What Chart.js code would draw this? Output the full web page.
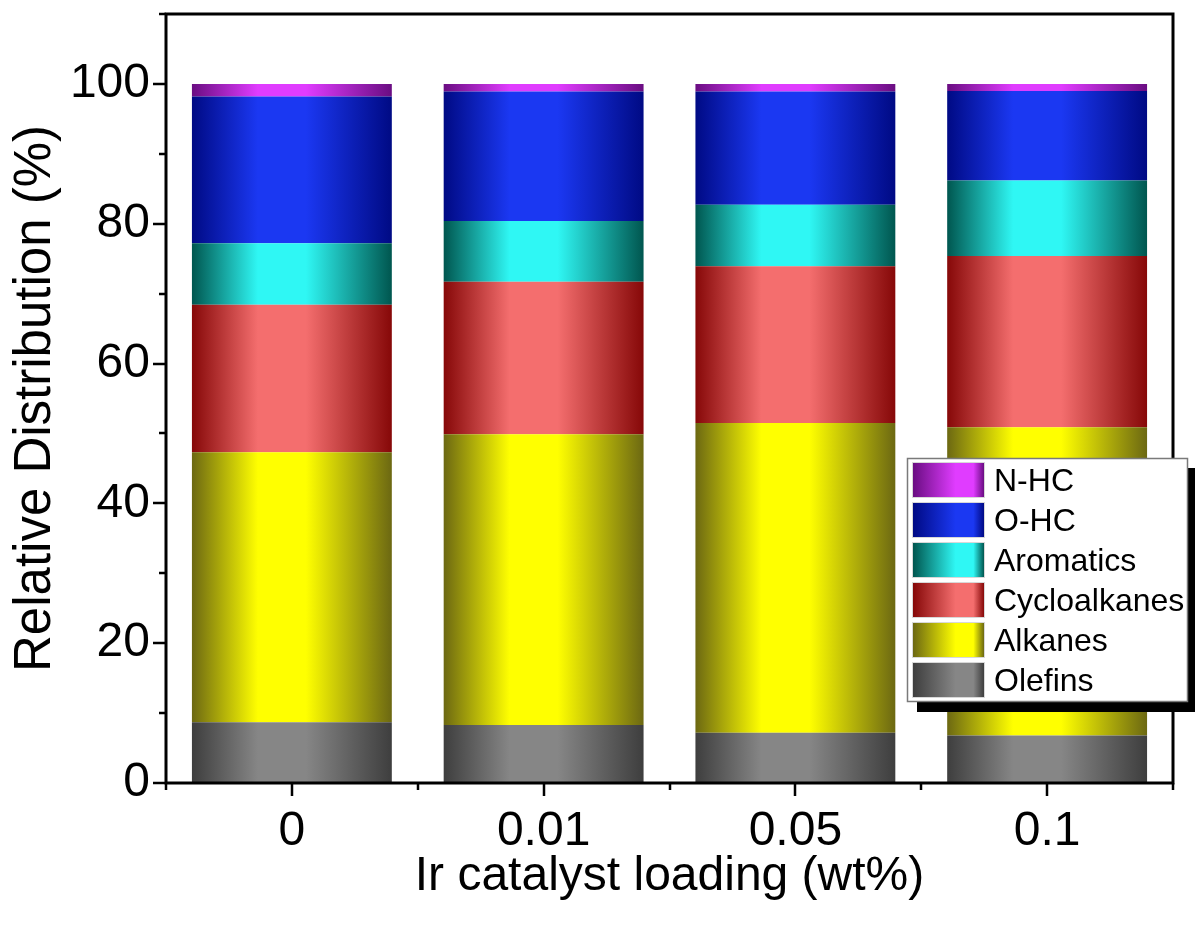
<!DOCTYPE html>
<html>
<head>
<meta charset="utf-8">
<script src="https://cdn.jsdelivr.net/npm/chart.js@4.4.1/dist/chart.umd.min.js"></script>
<style>
  html, body { margin: 0; padding: 0; background: #fff; }
  canvas { display: block; }
</style>
</head>
<body>
<canvas id="chart" width="1195" height="928"></canvas>
<script>
// Ir catalyst loading (wt%) categories
const loadings = ['0', '0.01', '0.05', '0.1'];

// Relative distribution (%) of each product class, bottom of the stack first
const olefins      = [8.7, 8.3, 7.2, 6.8];
const alkanes      = [38.6, 41.6, 44.3, 44.1];
const cycloalkanes = [21.1, 21.8, 22.4, 24.5];
const aromatics    = [8.8, 8.7, 8.8, 10.8];
const oHC          = [21.0, 18.5, 16.2, 12.8];
const nHC          = [1.8, 1.1, 1.1, 1.0];

// Axis ticks
const yTicks      = [0, 20, 40, 60, 80, 100];
const yMinorTicks = [10, 30, 50, 70, 90, 110];

const FONT = '"Liberation Sans", Arial, Helvetica, sans-serif';
const BAR_FRACTION = 0.794;

// Cylinder-style horizontal shading: dark edges, bright band left of centre
function shadeStops(g, dark, light) {
  g.addColorStop(0, dark);
  g.addColorStop(0.33, light);
  g.addColorStop(0.57, light);
  g.addColorStop(1, dark);
  return g;
}

function barShade(dark, light) {
  return function (ctx) {
    const chart = ctx.chart;
    const xs = chart.scales && chart.scales.x;
    if (!xs || ctx.dataIndex === undefined || !chart.chartArea) return light;
    const cx = xs.getPixelForValue(ctx.dataIndex);
    const w = (xs.width / loadings.length) * BAR_FRACTION;
    return shadeStops(chart.ctx.createLinearGradient(cx - w / 2, 0, cx + w / 2, 0), dark, light);
  };
}

const series = [
  { label: 'Olefins',      data: olefins,      dark: '#3e3e3e', light: '#868686' },
  { label: 'Alkanes',      data: alkanes,      dark: '#6c6812', light: '#ffff00' },
  { label: 'Cycloalkanes', data: cycloalkanes, dark: '#860808', light: '#f46e6e' },
  { label: 'Aromatics',    data: aromatics,    dark: '#00564f', light: '#2ff7f4' },
  { label: 'O-HC',         data: oHC,          dark: '#000a84', light: '#1b38f2' },
  { label: 'N-HC',         data: nHC,          dark: '#6a0d82', light: '#e03cff' }
];

const datasets = series.map(s => ({
  label: s.label,
  data: s.data,
  backgroundColor: barShade(s.dark, s.light),
  borderWidth: 0,
  barPercentage: BAR_FRACTION,
  categoryPercentage: 1,
  shadeDark: s.dark,
  shadeLight: s.light
}));

// Frame, inward/outward tick marks
const axisDecor = {
  id: 'axisDecor',
  afterDraw(chart) {
    const { ctx, chartArea: a, scales: { x, y } } = chart;
    ctx.save();
    ctx.strokeStyle = '#000';
    ctx.lineWidth = 3;
    ctx.strokeRect(a.left, a.top, a.right - a.left, a.bottom - a.top);
    ctx.lineWidth = 2.5;
    ctx.beginPath();
    yTicks.forEach(v => {
      const p = Math.round(y.getPixelForValue(v));
      ctx.moveTo(a.left - 13, p); ctx.lineTo(a.left, p);
    });
    yMinorTicks.forEach(v => {
      const p = Math.round(y.getPixelForValue(v));
      ctx.moveTo(a.left - 7, p); ctx.lineTo(a.left, p);
    });
    const step = (x.right - x.left) / loadings.length;
    loadings.forEach((_, i) => {
      const p = Math.round(x.getPixelForValue(i));
      ctx.moveTo(p, a.bottom); ctx.lineTo(p, a.bottom + 13);
    });
    for (let i = 0; i <= loadings.length; i++) {
      const p = Math.round(x.left + i * step);
      ctx.moveTo(p, a.bottom); ctx.lineTo(p, a.bottom + 7);
    }
    ctx.stroke();
    ctx.restore();
  }
};

// Legend box with drop shadow and shaded swatches
const shadedLegend = {
  id: 'shadedLegend',
  afterDraw(chart) {
    const { ctx, chartArea: a } = chart;
    const left = a.right - 266, top = a.top + 444;
    const w = 281, h = 244, rowH = 40;
    ctx.save();
    ctx.fillStyle = '#000';
    ctx.fillRect(left + 10, top + 10, w, h);
    ctx.fillStyle = '#fff';
    ctx.fillRect(left, top, w, h);
    ctx.strokeStyle = '#7a7a7a';
    ctx.lineWidth = 1.5;
    ctx.strokeRect(left + 0.5, top + 0.5, w - 1, h - 1);
    const items = chart.data.datasets.slice().reverse();
    ctx.font = '32px ' + FONT;
    ctx.textBaseline = 'middle';
    ctx.textAlign = 'left';
    items.forEach((ds, i) => {
      const sx = left + 6, sy = top + 5 + i * rowH, sw = 71, sh = 34;
      const g = ctx.createLinearGradient(sx, 0, sx + sw, 0);
      g.addColorStop(0, ds.shadeDark);
      g.addColorStop(0.6, ds.shadeLight);
      g.addColorStop(0.85, ds.shadeLight);
      g.addColorStop(1, ds.shadeDark);
      ctx.fillStyle = g;
      ctx.fillRect(sx, sy, sw, sh);
      ctx.strokeStyle = '#d8d8d8';
      ctx.lineWidth = 1;
      ctx.strokeRect(sx - 0.5, sy - 0.5, sw + 1, sh + 1);
      ctx.fillStyle = '#000';
      ctx.fillText(ds.label, left + 87, sy + sh / 2 + 2);
    });
    ctx.restore();
  }
};

Chart.defaults.font.family = FONT;
Chart.defaults.color = '#000';

new Chart(document.getElementById('chart'), {
  type: 'bar',
  data: { labels: loadings, datasets },
  options: {
    responsive: false,
    animation: false,
    devicePixelRatio: 1,
    layout: { padding: { top: 14, right: 22, left: 0, bottom: 0 } },
    plugins: { legend: { display: false }, tooltip: { enabled: false } },
    scales: {
      x: {
        stacked: true,
        grid: { display: false, drawTicks: false, tickLength: 0 },
        border: { display: false },
        ticks: { font: { size: 48 }, padding: 20, color: '#000', maxRotation: 0 },
        title: {
          display: true,
          text: 'Ir catalyst loading (wt%)',
          font: { size: 48 },
          color: '#000',
          padding: { top: 22, bottom: 22 }
        },
        afterFit(scale) {
          scale.height = 145;
          scale.paddingLeft = 0;
          scale.paddingRight = 0;
        }
      },
      y: {
        stacked: true,
        min: 0,
        max: 110,
        grid: { display: false, drawTicks: false, tickLength: 0 },
        border: { display: false },
        ticks: { font: { size: 48 }, padding: 16, color: '#000' },
        afterBuildTicks(scale) {
          scale.ticks = yTicks.map(v => ({ value: v }));
        },
        title: {
          display: true,
          text: 'Relative Distribution (%)',
          font: { size: 51 },
          color: '#000',
          padding: { top: 5, bottom: 5 }
        },
        afterFit(scale) {
          scale.width = 166;
          scale.paddingTop = 0;
          scale.paddingBottom = 0;
        }
      }
    }
  },
  plugins: [axisDecor, shadedLegend]
});
</script>
</body>
</html>
